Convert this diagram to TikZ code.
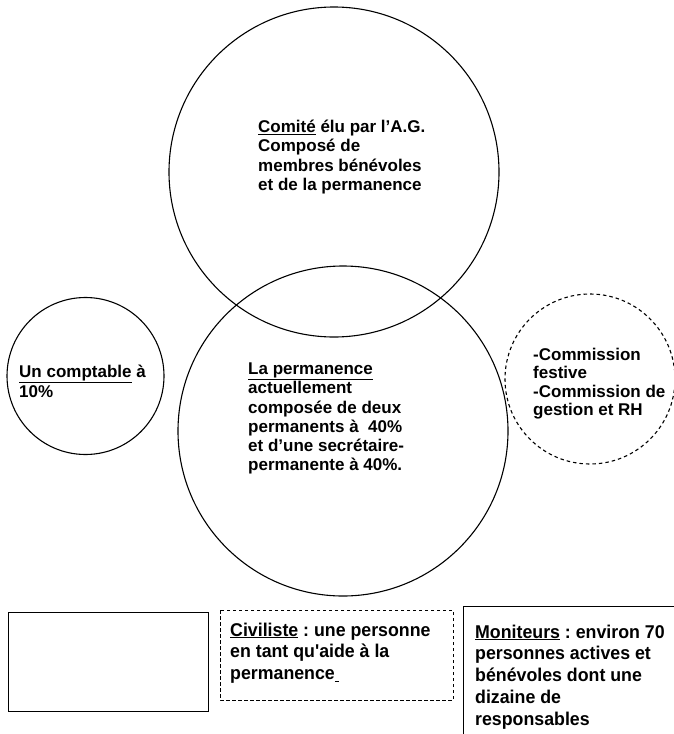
\documentclass[tikz,border=0pt]{standalone}
\usepackage{fontspec}
\setmainfont{Liberation Sans}
\newfontfamily\boxfont[FakeStretch=0.96]{Liberation Sans}
\frenchspacing
\begin{document}
\begin{tikzpicture}[x=1pt,y=-1pt,
  circ/.style={draw, line width=1.1pt, circle, inner sep=0pt},
  dcirc/.style={circ, dash pattern=on 3.5pt off 3pt},
  txt/.style={anchor=north west, inner sep=0pt, align=left, font=\frenchspacing\bfseries\fontsize{17}{19.5}\selectfont},
  btxt/.style={anchor=north west, inner sep=0pt, align=left, font=\frenchspacing\boxfont\bfseries\fontsize{18.5}{21.8}\selectfont},
  boxline/.style={draw, line width=1pt}]
\useasboundingbox (0,0) rectangle (674,734);
% circles
\node[circ, minimum size=330pt] (comite) at (334,172) {};
\node[circ, minimum size=330pt] (perm) at (343,431) {};
\node[circ, minimum size=157pt] (compt) at (85.5,376) {};
\node[dcirc, minimum size=170pt] (comm) at (590,379) {};
% texts
\node[txt] (tcomite) at (258,119.5) {\underline{Comité} élu par l’A.G.\\Composé de\\membres bénévoles\\et de la permanence};
\node[txt, font=\frenchspacing\bfseries\fontsize{17}{20}\selectfont] (tcompt) at (19,364.5) {\underline{Un comptable} à\\10\%};
\node[txt, font=\frenchspacing\bfseries\fontsize{17}{19.3}\selectfont] (tperm) at (248,362.5) {\underline{La permanence}\\actuellement\\composée de deux\\permanents à~~40\%\\et d’une secrétaire-\\permanente à 40\%.};
\node[txt, font=\frenchspacing\bfseries\fontsize{17}{18.5}\selectfont] (tcomm) at (533,347.5) {-Commission\\festive\\-Commission de\\gestion et RH};
% boxes
\draw[boxline] (8,612) rectangle (208,711);
\node[inner sep=0pt] (emptybox) at (108,661.5) {};
\draw[boxline, dash pattern=on 3.5pt off 2.5pt] (220,610) rectangle (453,700);
\coordinate (monA) at (463,734);
\coordinate (monB) at (463,606);
\coordinate (monC) at (674,606);
\draw[boxline] (monA) -- (monB) -- (monC);
\node[btxt] (tciv) at (230,622.5) {\underline{Civiliste} : une personne\\en tant qu'aide à la\\permanence\underline{\hspace{4pt}}};
\node[btxt] (tmon) at (475,624.5) {\underline{Moniteurs} : environ 70\\personnes actives et\\bénévoles dont une\\dizaine de\\responsables};
\end{tikzpicture}
\end{document}
